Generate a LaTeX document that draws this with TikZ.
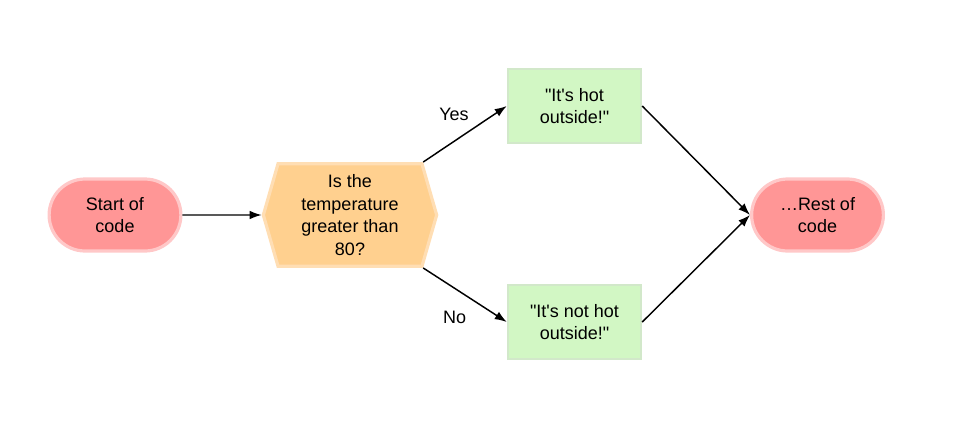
\documentclass[tikz,border=0pt]{standalone}
\usepackage{fontspec}
\setmainfont{Liberation Sans}
\usepackage{xcolor}
\usetikzlibrary{arrows.meta}
\usetikzlibrary{shapes.misc}
\usetikzlibrary{shapes.symbols}
\definecolor{termfill}{HTML}{FF9696}
\definecolor{termline}{HTML}{FFC8C8}
\definecolor{testfill}{HTML}{FFD08F}
\definecolor{testline}{HTML}{FFDEB4}
\definecolor{stepfill}{HTML}{D2F7C4}
\definecolor{stepline}{HTML}{D2E8CA}
\tikzset{
  terminal/.style={rounded rectangle, fill=termfill, draw=termline, line width=2.4pt,
    minimum width=105.5pt, minimum height=54pt, align=center, font=\fontsize{13.5}{17}\selectfont},
  decision/.style={signal, signal to=west and east, signal pointer angle=148,
    fill=testfill, draw=testline, line width=2.4pt, inner sep=1pt,
    minimum width=130pt, minimum height=77pt, align=center, font=\fontsize{13.5}{17}\selectfont},
  stepbox/.style={rectangle, fill=stepfill, draw=stepline, line width=1.6pt,
    minimum width=100pt, minimum height=55pt, align=center, font=\fontsize{13.5}{17}\selectfont},
  flow/.style={black, line width=1.1pt, -{Latex[length=9pt,width=6.5pt]}},
  answer/.style={font=\fontsize{13.5}{15}\selectfont}
}
\newcommand{\qq}{\textquotedbl}
\newcommand{\ap}{\textquotesingle}
\begin{document}
\begin{tikzpicture}[x=0.75pt,y=-0.75pt]
  \useasboundingbox (0,0) rectangle (959,429);
  % the nodes
  \node[terminal] (start) at (115,215) {Start of\\code};
  \node[decision] (test) at (350,215) {Is the\\temperature\\greater than\\80?};
  \node[stepbox] (hot) at (574.5,106) {\qq It\ap s hot\\outside!\qq};
  \node[stepbox] (nothot) at (574.5,322) {\qq It\ap s not hot\\outside!\qq};
  \node[terminal] (rest) at (817.5,215) {\ldots Rest of\\code};
  % the connectors
  \draw[flow] (start) -- (test);
  \draw[flow] (test.north east) -- (hot.west) node[answer, pos=0.4, above=10.5pt, xshift=-2pt] {Yes};
  \draw[flow] (test.south east) -- (nothot.west) node[answer, pos=0.4, below=12pt, xshift=-1.5pt] {No};
  \draw[flow] (hot.east) -- (rest.west);
  \draw[flow] (nothot.east) -- (rest.west);
\end{tikzpicture}
\end{document}
